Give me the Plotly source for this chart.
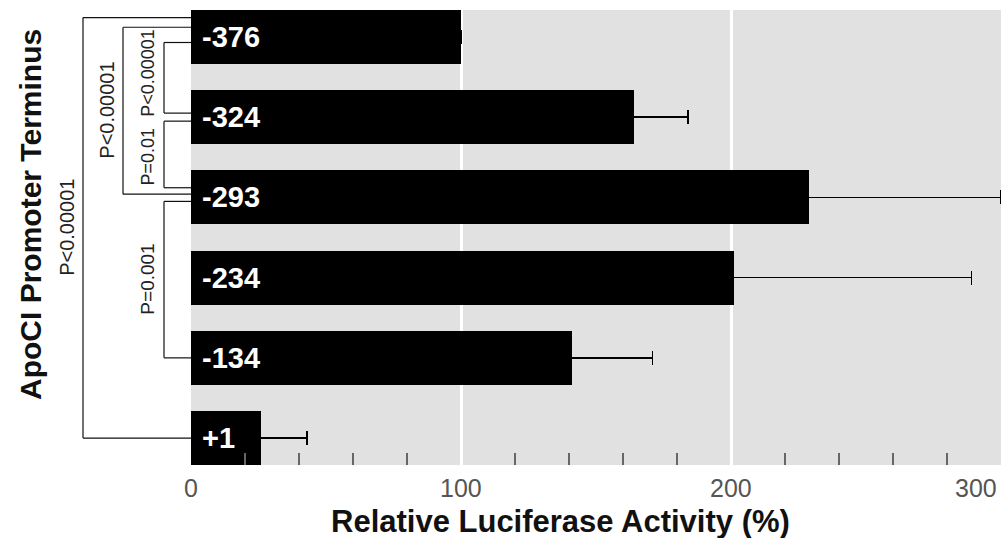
import plotly.graph_objects as go

# ---- data ----
promoters = ["-376", "-324", "-293", "-234", "-134", "+1"]
activity = [100, 164, 229, 201, 141, 26]
err_plus = [None, 20, 71, 88, 30, 17]
x_tick_vals = [0, 100, 200, 300]
x_tick_text = ["0", "100", "200", "300"]
grid_vals = [100, 200]
minor_tick_vals = [20, 40, 60, 80, 120, 140, 160, 180, 220, 240, 260, 280]

# brackets: (top index, top offset, bottom index, bottom offset, x offset px from plot left,
#            label, label font size, label vertical shift px)
brackets = [
    (0, -0.24, 5, 0.0, -108, "P<0.00001", 20, 0),
    (0, -0.12, 2, -0.04, -68, "P<0.00001", 20, 0),
    (0, 0.07, 1, -0.05, -27, "P<0.00001", 18, 5),
    (1, 0.05, 2, -0.12, -27, "P=0.01", 18, -2),
    (2, 0.05, 4, 0.0, -27, "P=0.001", 19, 0),
]

W, H = 1001, 538
ML, MR, MT, MB = 191, 0, 10, 73
PW = W - ML - MR
PH = H - MT - MB
n = len(promoters)
pad = 0.335
y_range = [n - 1 + pad, -pad]


def ypaper(i, off):
    return (y_range[0] - (i + off)) / (y_range[0] - y_range[1])


def xpaper_px(px):
    return px / PW


fig = go.Figure()
fig.add_trace(go.Bar(
    x=activity, y=promoters, orientation="h",
    marker=dict(color="#000000", line=dict(width=0)),
    width=0.67,
    error_x=dict(type="data", symmetric=True, array=err_plus,
                 color="#000000", thickness=1.5, width=7),
    showlegend=False, hoverinfo="skip",
))

annotations = []
# labels inside bars
for i, p in enumerate(promoters):
    annotations.append(dict(x=0, y=i, xref="x", yref="y", text=f"<b>{p}</b>",
                            showarrow=False, xanchor="left", xshift=9,
                            font=dict(family="Liberation Sans", size=29, color="white")))

shapes = []
for (ti, to, bi, bo, xo, lab, fs, ys) in brackets:
    xl = xpaper_px(xo)
    yt = ypaper(ti, to)
    yb = ypaper(bi, bo)
    line = dict(color="#111111", width=1.2)
    shapes.append(dict(type="line", xref="paper", yref="paper", x0=xl, x1=0, y0=yt, y1=yt, line=line))
    shapes.append(dict(type="line", xref="paper", yref="paper", x0=xl, x1=0, y0=yb, y1=yb, line=line))
    shapes.append(dict(type="line", xref="paper", yref="paper", x0=xl, x1=xl, y0=yt, y1=yb, line=line))
    annotations.append(dict(x=xl, y=(yt + yb) / 2, xref="paper", yref="paper", text=lab,
                            textangle=-90, showarrow=False, xanchor="center", yanchor="middle",
                            xshift=-16, yshift=ys,
                            font=dict(family="Liberation Sans", size=fs, color="#222222")))

# x tick labels
for v, t in zip(x_tick_vals, x_tick_text):
    annotations.append(dict(x=v, y=-23 / PH, xref="x", yref="paper", text=t, showarrow=False,
                            xanchor="right" if v == x_tick_vals[-1] else "center",
                            yanchor="middle", xshift=-2 if v == x_tick_vals[-1] else 0,
                            font=dict(family="Liberation Sans", size=25, color="#555555")))

# axis titles
annotations.append(dict(x=(560 - ML) / PW, y=(465 - 521) / PH, xref="paper", yref="paper",
                        text="<b>Relative Luciferase Activity (%)</b>", showarrow=False,
                        xanchor="center", yanchor="middle",
                        font=dict(family="Liberation Sans", size=31, color="#111111")))
annotations.append(dict(x=(31 - ML) / PW, y=(465 - 215) / PH, xref="paper", yref="paper",
                        text="<b>ApoCI Promoter Terminus</b>", showarrow=False, textangle=-90,
                        xanchor="center", yanchor="middle",
                        font=dict(family="Liberation Sans", size=30, color="#111111")))

fig.update_layout(
    width=W, height=H,
    margin=dict(l=ML, r=MR, t=MT, b=MB),
    paper_bgcolor="white", plot_bgcolor="#e1e1e1",
    bargap=0,
    xaxis=dict(range=[0, 300], tickmode="array", tickvals=grid_vals, showticklabels=False,
               ticks="", showgrid=True, gridcolor="white", gridwidth=3, zeroline=False,
               showline=False,
               minor=dict(tickmode="array", tickvals=minor_tick_vals, ticks="inside",
                          ticklen=12, tickwidth=2, tickcolor="#666666", showgrid=False)),
    yaxis=dict(type="category", categoryarray=promoters, range=y_range, showticklabels=False,
               ticks="", showgrid=False, zeroline=False, showline=False),
    shapes=shapes, annotations=annotations,
)

fig.write_html("out.html", config={"displayModeBar": False},
               post_script="document.body.style.margin='0';")
